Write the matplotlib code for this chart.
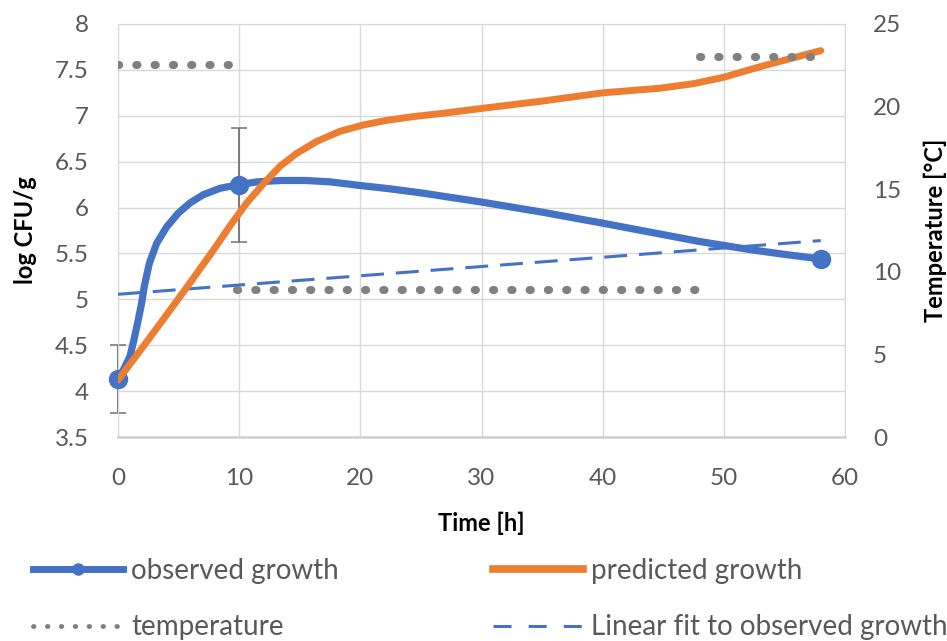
"""Observed vs predicted growth with temperature profile."""

import matplotlib.pyplot as plt
from matplotlib.lines import Line2D
from matplotlib.ticker import FuncFormatter

plt.rcParams['font.family'] = ['Lato', 'DejaVu Sans']

# ================================ DATA ======================================

# measured counts (mean +- sd)
obs_hours = [0, 10, 58]
obs_log = [4.13, 6.25, 5.44]
obs_sd = [0.37, 0.62, 0.0]

# smoothed curve through the observations
obs_curve_hours = [0, 0.44, 0.99, 1.3, 1.68, 1.95, 2.17, 2.58, 3.19, 4.02,
                   4.98, 5.94, 7.04, 8.42, 10, 11.5, 13.4, 15.5, 17.5, 20,
                   22.4, 25, 30, 35, 40, 44, 48, 52, 55, 58]
obs_curve_log = [4.13, 4.23, 4.38, 4.55, 4.78, 4.96, 5.14, 5.39, 5.61, 5.79,
                 5.94, 6.05, 6.14, 6.21, 6.25, 6.28, 6.295, 6.295, 6.28, 6.24,
                 6.205, 6.16, 6.06, 5.95, 5.83, 5.73, 5.63, 5.545, 5.49, 5.44]

# model prediction
pred_hours = [0, 2.5, 5.67, 8, 9.24, 10.62, 12, 13.37, 14.74, 16.39, 18.3,
              20.24, 22.17, 24.3, 27, 30, 35, 40, 44.7, 47.5, 50, 53, 55.7, 58]
pred_log = [4.12, 4.56, 5.13, 5.56, 5.80, 6.05, 6.26, 6.45, 6.59, 6.72, 6.83,
            6.90, 6.95, 6.99, 7.03, 7.08, 7.16, 7.25, 7.30, 7.35, 7.42, 7.535,
            7.63, 7.71]

# linear fit
fit_hours = [0, 58]
fit_log = [5.055, 5.64]

# temperature profile (three storage phases)
temp_hours_1 = [0, 9.2]
temp_1 = [22.5, 22.5]
temp_hours_2 = [9.8, 48]
temp_2 = [8.9, 8.9]
temp_hours_3 = [48, 57.5]
temp_3 = [23, 23]

x_ticks = [0, 10, 20, 30, 40, 50, 60]
log_ticks = [3.5, 4, 4.5, 5, 5.5, 6, 6.5, 7, 7.5, 8]
temp_ticks = [0, 5, 10, 15, 20, 25]

BLUE = '#4472C4'
ORANGE = '#ED7D31'
GREY = '#808080'
TXT = '#595959'
GRID = '#D9D9D9'

W, H = 947, 641

# ================================ PLOT ======================================

fig = plt.figure(figsize=(W / 100, H / 100), dpi=100)
ax = fig.add_axes([118 / W, 1 - 437 / H, 727 / W, 413 / H])
ax2 = ax.twinx()

ax.grid(True, color=GRID, lw=1.0)
ax.set_axisbelow(True)

ax.errorbar(obs_hours, obs_log, yerr=obs_sd, fmt='none', ecolor='#707070',
            elinewidth=1.3, capsize=6, capthick=1.1, clip_on=False, zorder=2)
ax.plot(fit_hours, fit_log, color=BLUE, lw=2.2, dashes=(7.5, 3.9), zorder=3)
ax.plot(obs_curve_hours, obs_curve_log, color=BLUE, lw=5.2,
        solid_capstyle='round', solid_joinstyle='round', zorder=4)
ax.plot(obs_hours, obs_log, 'o', color=BLUE, ms=13, clip_on=False, zorder=5)
ax.plot(pred_hours, pred_log, color=ORANGE, lw=5.0,
        solid_capstyle='round', solid_joinstyle='round', zorder=6)

for th, tc in [(temp_hours_1, temp_1), (temp_hours_2, temp_2),
               (temp_hours_3, temp_3)]:
    ax2.plot(th, tc, color=GREY, lw=5.8, linestyle=(0, (0.15, 2.12)),
             dash_capstyle='round')

ax.set_xlim(0, 60)
ax.set_ylim(3.5, 8)
ax2.set_ylim(0, 25)
ax.set_xticks(x_ticks)
ax.set_yticks(log_ticks)
ax2.set_yticks(temp_ticks)
ax.yaxis.set_major_formatter(FuncFormatter(lambda v, _: f'{v:g}'))

ax.tick_params(axis='x', length=0, labelsize=17.5, labelcolor=TXT, pad=22)
ax.tick_params(axis='y', length=0, labelsize=17.5, labelcolor=TXT, pad=21)
ax2.tick_params(axis='y', length=0, labelsize=17.5, labelcolor=TXT, pad=20)

for side in ['top', 'left', 'right']:
    ax.spines[side].set_color(GRID)
ax.spines['bottom'].set_color('#D0D0D0')
ax.spines['bottom'].set_linewidth(1.8)
for sp in ax2.spines.values():
    sp.set_visible(False)

ax.set_xlabel('Time [h]', fontsize=17, fontweight='bold', va='center')
ax.xaxis.set_label_coords(0.5, (437 - 523) / 413)
ax.set_ylabel('log CFU/g', fontsize=17, fontweight='bold', va='center')
ax.yaxis.set_label_coords((26 - 118) / 727, 0.5)
ax2.set_ylabel('Temperature [°C]', fontsize=17, fontweight='bold', va='center')
ax2.yaxis.set_label_coords((935 - 118) / 727, 0.5)

# Legend ---------------------------------------------------------------------

h_obs = Line2D([], [], color=BLUE, lw=5, marker='o', ms=8)
h_temp = Line2D([], [], color=GREY, lw=3.5, linestyle=(0, (0.1, 2.76)),
                dash_capstyle='round')
h_pred = Line2D([], [], color=ORANGE, lw=5.5)
h_fit = Line2D([], [], color=BLUE, lw=2.2, dashes=(5.9, 5.6))

leg_kw = dict(loc='upper left', frameon=False, borderpad=0, borderaxespad=0,
              handlelength=3.24, handletextpad=0.3, labelspacing=1.09,
              fontsize=20, labelcolor=TXT)
fig.legend([h_obs, h_temp], ['observed growth', 'temperature'],
           bbox_to_anchor=(33 / W, 1 - 558 / H), **leg_kw)
fig.legend([h_pred, h_fit], ['predicted growth', 'Linear fit to observed growth'],
           bbox_to_anchor=(493 / W, 1 - 558 / H), **leg_kw)

fig.savefig('out.png', dpi=100)
